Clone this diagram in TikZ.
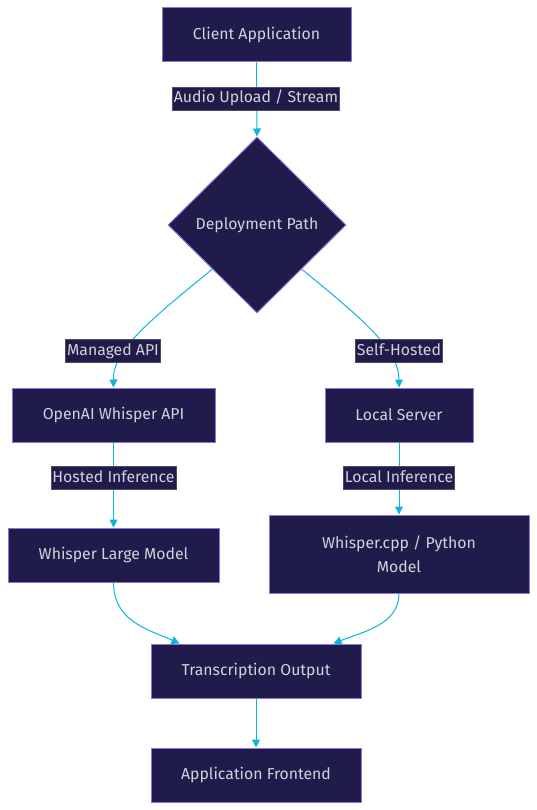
\documentclass[tikz,border=0pt]{standalone}
\usepackage{fontspec}
\setmainfont{Fira Sans}
\usetikzlibrary{shapes.geometric,arrows.meta}
\definecolor{nodefill}{HTML}{1F1B4A}
\definecolor{nodeborder}{HTML}{9370DB}
\definecolor{linkcol}{HTML}{0FB5D6}
\definecolor{txtcol}{HTML}{D2D2DA}
\begin{document}
\begin{tikzpicture}[x=1pt,y=-1pt,
  every node/.style={font=\fontsize{15.8}{24}\selectfont, text=txtcol},
  procbox/.style={draw=nodeborder, fill=nodefill, line width=1pt, rectangle, inner sep=0pt, align=center},
  decbox/.style={draw=nodeborder, fill=nodefill, line width=1pt, diamond, inner sep=0pt, minimum width=178pt, minimum height=176pt},
  elabel/.style={fill=nodefill, draw=gray!50!nodefill, line width=0.5pt, inner xsep=1.5pt, inner ysep=3.5pt, text height=12pt, text depth=4pt},
  link/.style={draw=linkcol, line width=1pt, -{Triangle[width=8pt,length=8pt]}}
]
\useasboundingbox (0,0) rectangle (537,810);
\node[procbox, minimum width=189pt, minimum height=54pt] (client) at (256.5,35) {Client Application};
\node[decbox] (dp) at (257,225) {Deployment Path};
\node[procbox, minimum width=203pt, minimum height=54pt] (oa) at (113.5,415) {OpenAI Whisper API};
\node[procbox, minimum width=148pt, minimum height=54pt] (ls) at (399,415) {Local Server};
\node[procbox, minimum width=211pt, minimum height=54pt] (wl) at (113.5,555) {Whisper Large Model};
\node[procbox, minimum width=260pt, minimum height=78pt] (wc) at (399,554) {Whisper.cpp / Python\\Model};
\node[procbox, minimum width=210pt, minimum height=54pt] (to) at (256,671) {Transcription Output};
\node[procbox, minimum width=210pt, minimum height=54pt] (af) at (256,775) {Application Frontend};

\draw[link] (client.south) -- (dp.north);
\draw[link] (dp.south west) .. controls (150,320) and (113,350) .. (oa.north);
\draw[link] (dp.south east) .. controls (364,320) and (399,350) .. (ls.north);
\draw[link] (oa.south) -- (wl.north);
\draw[link] (ls.south) -- (wc.north);
\draw[link] (wl.south) .. controls (113.5,622) and (150,630) .. ([xshift=29pt]to.north west);
\draw[link] (wc.south) .. controls (399,625) and (362,632) .. ([xshift=-28pt]to.north east);
\draw[link] (to.south) -- (af.north);

\node[elabel] (l1) at (256,98.5) {Audio Upload / Stream};
\node[elabel] (l2) at (113,351) {Managed API};
\node[elabel] (l3) at (399,351) {Self-Hosted};
\node[elabel] (l4) at (113.5,478) {Hosted Inference};
\node[elabel] (l5) at (399,478) {Local Inference};
\end{tikzpicture}
\end{document}
